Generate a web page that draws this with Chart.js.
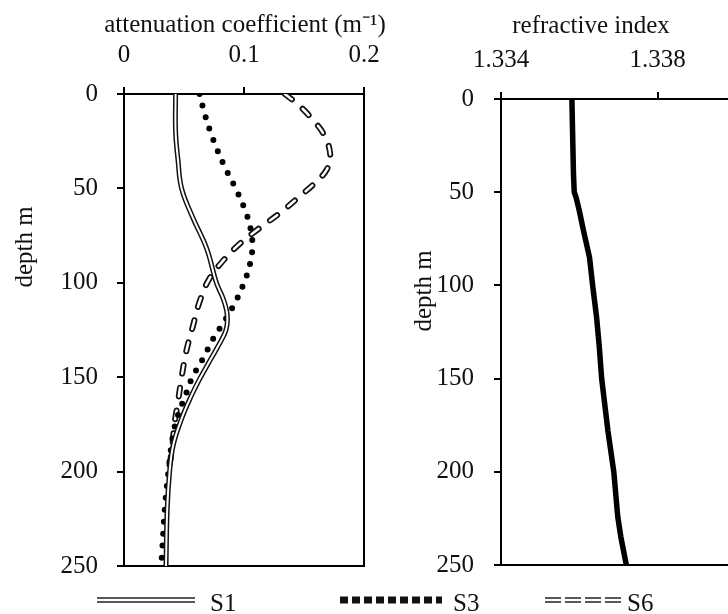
<!DOCTYPE html>
<html>
<head>
<meta charset="utf-8">
<script src="https://cdn.jsdelivr.net/npm/chart.js@4"></script>
<style>
  body { margin: 0; width: 728px; height: 614px; overflow: hidden; background: #fff; position: relative;
         font-family: "Liberation Serif", "Times New Roman", serif; }
  canvas { position: absolute; top: 0; }
  #attenChart { left: 0; }
  #riChart { left: 400px; }
  .key { position: absolute; top: 590px; font-size: 25px; line-height: 25px; color: #111; }
  .swatch { position: absolute; top: 593px; }
</style>
</head>
<body>
<canvas id="attenChart" width="400" height="600"></canvas>
<canvas id="riChart" width="340" height="600"></canvas>

<svg class="swatch" style="left:97px" width="98" height="14">
  <line x1="0" y1="5" x2="98" y2="5" stroke="#222" stroke-width="1.6"/>
  <line x1="0" y1="9" x2="98" y2="9" stroke="#222" stroke-width="1.6"/>
</svg>
<div class="key" style="left:210px">S1</div>
<svg class="swatch" style="left:340px" width="102" height="14">
  <line x1="0" y1="7" x2="102" y2="7" stroke="#111" stroke-width="7" stroke-dasharray="8 4"/>
</svg>
<div class="key" style="left:453px">S3</div>
<svg class="swatch" style="left:545px" width="80" height="14">
  <line x1="0" y1="5" x2="80" y2="5" stroke="#222" stroke-width="1.6" stroke-dasharray="16 4"/>
  <line x1="0" y1="9" x2="80" y2="9" stroke="#222" stroke-width="1.6" stroke-dasharray="16 4"/>
</svg>
<div class="key" style="left:627px">S6</div>

<script>
// depth profiles (depth in m, attenuation in 1/m)
const s1Depth = [0, 20, 35, 50, 65, 82, 100, 109, 117, 125, 134, 143, 151, 160, 172, 186, 200, 220, 250];
const s1Atten = [0.043, 0.043, 0.045, 0.048, 0.057, 0.069, 0.077, 0.083, 0.086, 0.085, 0.078, 0.070, 0.063, 0.056, 0.048, 0.041, 0.038, 0.036, 0.035];

const s3Depth = [0, 10, 20, 30, 40, 50, 60, 70, 80, 90, 100, 110, 120, 130, 140, 150, 160, 170, 180, 200, 220, 240, 250];
const s3Atten = [0.063, 0.067, 0.072, 0.078, 0.085, 0.093, 0.100, 0.105, 0.107, 0.105, 0.100, 0.093, 0.084, 0.074, 0.066, 0.057, 0.051, 0.045, 0.041, 0.037, 0.034, 0.032, 0.031];

const s6Depth = [0, 5, 12, 22, 33, 40, 46, 55, 63, 71, 79, 88, 98, 110, 124, 136, 150, 163, 175, 188, 200];
const s6Atten = [0.134, 0.144, 0.155, 0.167, 0.172, 0.169, 0.161, 0.145, 0.130, 0.113, 0.097, 0.083, 0.071, 0.063, 0.057, 0.052, 0.048, 0.045, 0.042, 0.040, 0.037];

const riDepth = [0, 20, 40, 50, 53, 60, 70, 85, 100, 117, 133, 150, 178, 200, 224, 235, 250];
const riValue = [1.33581, 1.33583, 1.33585, 1.33587, 1.33592, 1.33600, 1.33610, 1.33626, 1.33634, 1.33644, 1.33651, 1.33657, 1.33673, 1.33688, 1.33698, 1.33706, 1.33720];

const attenTicks = [0, 0.1, 0.2];
const riTicks = [1.334, 1.338];
const depthTicks = [0, 50, 100, 150, 200, 250];

const FONT = '"Liberation Serif", "Times New Roman", serif';
Chart.defaults.font.family = FONT;
Chart.defaults.font.size = 25;
Chart.defaults.color = '#111';

function profile(depths, values) {
    return depths.map((d, i) => ({x: values[i], y: d}));
}

// box around the plot area
const frame = {
    id: 'frame',
    beforeDatasetsDraw(chart) {
        const {ctx, chartArea: a} = chart;
        ctx.save();
        ctx.strokeStyle = '#000';
        ctx.lineWidth = 2;
        ctx.strokeRect(a.left, a.top, a.right - a.left, a.bottom - a.top);
        ctx.restore();
    }
};

// axis captions, drawn freely so the long top caption is not squeezed to the plot width
const captions = {
    id: 'captions',
    afterDraw(chart, args, opts) {
        const ctx = chart.ctx;
        ctx.save();
        ctx.font = '25px ' + FONT;
        ctx.fillStyle = '#111';
        ctx.textAlign = 'center';
        ctx.textBaseline = 'middle';
        ctx.fillText(opts.top.text, opts.top.x, opts.top.y);
        ctx.translate(opts.side.x, opts.side.y);
        ctx.rotate(-Math.PI / 2);
        ctx.fillText(opts.side.text, 0, 0);
        ctx.restore();
    }
};

function axisStyle(tickValues, opts) {
    return Object.assign({
        type: 'linear',
        afterBuildTicks: scale => { scale.ticks = tickValues.map(v => ({value: v})); },
        grid: {display: true, drawOnChartArea: false, drawTicks: true, tickLength: 7, color: '#000', lineWidth: 2},
        border: {display: true, color: '#000', width: 2}
    }, opts);
}

function depthAxis(width, pad) {
    return axisStyle(depthTicks, {
        reverse: true, min: 0, max: 250,
        afterFit: scale => { scale.width = width; },
        ticks: {padding: pad}
    });
}

new Chart(document.getElementById('attenChart'), {
    type: 'scatter',
    data: {
        datasets: [
            // double lines: a white core drawn over a wider black stroke
            {data: profile(s1Depth, s1Atten), showLine: true, borderColor: '#fff', borderWidth: 2, tension: 0.4, pointRadius: 0, order: 0},
            {data: profile(s1Depth, s1Atten), showLine: true, borderColor: '#111', borderWidth: 5, tension: 0.4, pointRadius: 0, order: 1},
            {data: profile(s3Depth, s3Atten), showLine: true, borderColor: '#000', borderWidth: 6, borderDash: [0, 12], borderCapStyle: 'round', tension: 0.4, pointRadius: 0, order: 2},
            {data: profile(s6Depth, s6Atten), showLine: true, borderColor: '#fff', borderWidth: 2.5, borderDash: [9, 14], borderCapStyle: 'round', tension: 0.4, pointRadius: 0, order: 3},
            {data: profile(s6Depth, s6Atten), showLine: true, borderColor: '#111', borderWidth: 6, borderDash: [9, 14], borderCapStyle: 'round', tension: 0.4, pointRadius: 0, order: 4}
        ]
    },
    options: {
        responsive: false,
        animation: false,
        layout: {padding: {left: 0, top: 0, right: 36, bottom: 33}},
        plugins: {
            legend: {display: false},
            tooltip: {enabled: false},
            captions: {
                top: {text: 'attenuation coefficient (m⁻¹)', x: 245, y: 25},
                side: {text: 'depth m', x: 25, y: 247}
            }
        },
        scales: {
            x: axisStyle(attenTicks, {
                position: 'top', min: 0, max: 0.2,
                afterFit: scale => { scale.height = 94; },
                ticks: {padding: 17}
            }),
            y: depthAxis(124, 19)
        }
    },
    plugins: [frame, captions]
});

new Chart(document.getElementById('riChart'), {
    type: 'scatter',
    data: {
        datasets: [
            {data: profile(riDepth, riValue), showLine: true, borderColor: '#000', borderWidth: 5.5, tension: 0, pointRadius: 0}
        ]
    },
    options: {
        responsive: false,
        animation: false,
        layout: {padding: {left: 0, top: 0, right: 4, bottom: 35}},
        plugins: {
            legend: {display: false},
            tooltip: {enabled: false},
            captions: {
                top: {text: 'refractive index', x: 191, y: 26},
                side: {text: 'depth m', x: 24, y: 291}
            }
        },
        scales: {
            x: axisStyle(riTicks, {
                position: 'top', min: 1.334, max: 1.340,
                afterFit: scale => { scale.height = 99; },
                ticks: {padding: 17, callback: v => v.toFixed(3)}
            }),
            y: depthAxis(101, 20)
        }
    },
    plugins: [frame, captions]
});
</script>
</body>
</html>
